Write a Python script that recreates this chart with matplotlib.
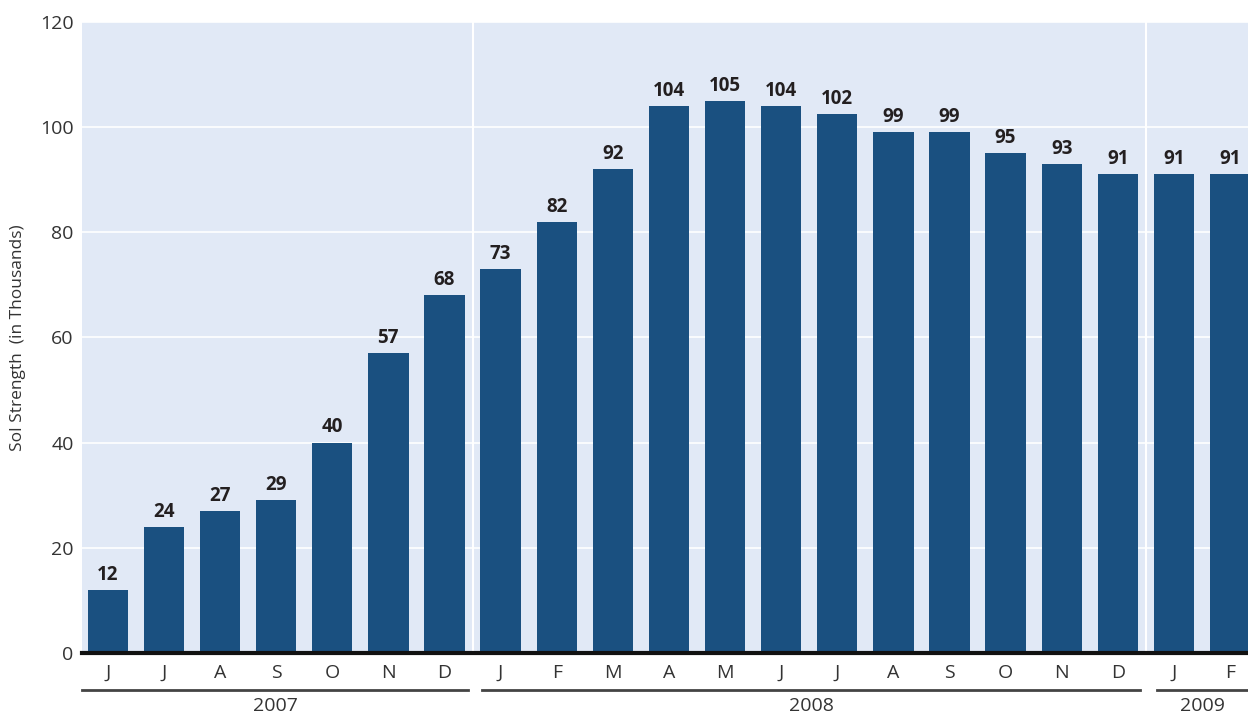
import matplotlib.pyplot as plt

months = ["J", "J", "A", "S", "O", "N", "D",
          "J", "F", "M", "A", "M", "J", "J", "A", "S", "O", "N", "D",
          "J", "F"]
values = [12, 24, 27, 29, 40, 57, 68,
          73, 82, 92, 104, 105, 104, 102.5, 99, 99, 95, 93, 91,
          91, 91]
labels = [12, 24, 27, 29, 40, 57, 68,
          73, 82, 92, 104, 105, 104, 102, 99, 99, 95, 93, 91,
          91, 91]
years = ["2007", "2008", "2009"]
year_spans = [(-0.46, 6.42), (6.67, 18.4), (18.7, 20.32)]
year_breaks = [6.5, 18.5]

plt.rcParams['font.family'] = ['Open Sans', 'DejaVu Sans']

fig = plt.figure(figsize=(12.48, 7.17), dpi=100)
ax = fig.add_axes([0.0657, 0.0893, 0.9343, 0.880])
ax.set_facecolor("#e1e9f6")

x = list(range(len(values)))
ax.bar(x, values, width=0.72, color="#1a5080", zorder=3)
for xi, v, lab in zip(x, values, labels):
    ax.text(xi, v + 1.0, str(lab), ha="center", va="bottom",
            fontsize=13.5, fontweight="bold", color="#231f20", zorder=4)

ax.set_xlim(-0.46, 20.32)
ax.set_ylim(0, 120)
ax.set_yticks(range(0, 121, 20))
ax.yaxis.grid(True, color="white", linewidth=1.2, zorder=1)
for b in year_breaks:
    ax.axvline(b, color="white", linewidth=1.5, zorder=2)
ax.axhline(0, color="#111111", linewidth=3, zorder=5, clip_on=False)

for s in ax.spines.values():
    s.set_visible(False)

ax.set_xticks(x)
ax.set_xticklabels(months)
ax.tick_params(axis="both", length=0, labelsize=14, colors="#333333")
ax.tick_params(axis="x", pad=8)
ax.tick_params(axis="y", pad=6)
ax.set_ylabel("Sol Strength  (in Thousands)", fontsize=12.5, color="#333333", labelpad=10)

trans = ax.get_xaxis_transform()
for name, (a, b) in zip(years, year_spans):
    ax.plot([a, b], [-0.0586, -0.0586], transform=trans, color="#444444",
            linewidth=2, clip_on=False)
    ax.text((a + b) / 2, -0.084, name, transform=trans, ha="center", va="center",
            fontsize=14, color="#333333")

fig.savefig("out.png", dpi=100)
